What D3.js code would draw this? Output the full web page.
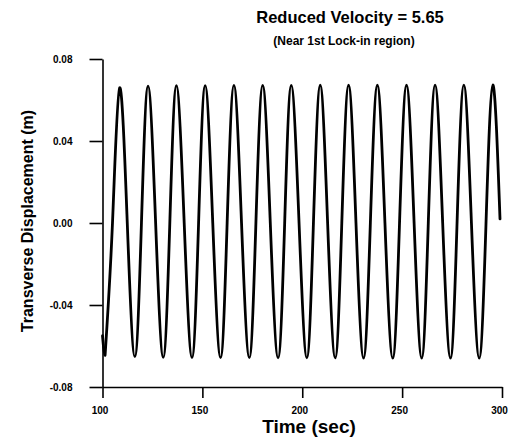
<!DOCTYPE html>
<html>
<head>
<meta charset="utf-8">
<script src="https://cdn.jsdelivr.net/npm/d3@7/dist/d3.min.js"></script>
<style>
  html, body { margin: 0; padding: 0; background: #fff; }
  svg { display: block; }
  text { font-family: "Liberation Sans", Arial, sans-serif; fill: #000; }
</style>
</head>
<body>
<svg id="chart" width="516" height="441"></svg>
<script>
// ---- data ----
const titleText = "Reduced Velocity = 5.65";
const subtitleText = "(Near 1st Lock-in region)";
const xLabel = "Time (sec)";
const yLabel = "Transverse Displacement (m)";

const xTicks = [100, 150, 200, 250, 300];
const xTickLabels = ["100", "150", "200", "250", "300"];
const yTicks = [-0.08, -0.04, 0.00, 0.04, 0.08];
const yTickLabels = ["-0.08", "-0.04", "0.00", "0.04", "0.08"];

// time (s) of the read points: start, troughs, crossings, peaks, end
const time = [
  100.0, 101.3, 105.0, 108.6, 112.4, 116.2, 119.5, 122.8, 126.6, 130.4,
  133.7, 137.0, 140.9, 144.8, 148.1, 151.4, 155.2, 159.1, 162.4, 165.8,
  169.6, 173.5, 176.8, 180.2, 184.0, 187.9, 191.2, 194.5, 198.4, 202.3,
  205.6, 209.0, 212.7, 216.5, 219.8, 223.2, 226.9, 230.7, 234.1, 237.6,
  241.4, 245.3, 248.7, 252.2, 256.0, 259.8, 263.1, 266.5, 270.3, 274.2,
  277.5, 280.9, 284.7, 288.6, 292.0, 295.4, 299.0
];
// transverse displacement (m) at those times
const disp = [
  -0.0550, -0.0645, 0, 0.0660, 0, -0.0652, 0, 0.0668, 0, -0.0655,
  0, 0.0670, 0, -0.0656, 0, 0.0670, 0, -0.0657, 0, 0.0671,
  0, -0.0657, 0, 0.0671, 0, -0.0658, 0, 0.0671, 0, -0.0658,
  0, 0.0672, 0, -0.0658, 0, 0.0672, 0, -0.0659, 0, 0.0672,
  0, -0.0659, 0, 0.0672, 0, -0.0659, 0, 0.0673, 0, -0.0659,
  0, 0.0673, 0, -0.0659, 0, 0.0673, 0.0020
];

// ---- drawing ----
const svg = d3.select("#chart");
const x = d3.scaleLinear().domain([100, 300]).range([102.5, 502]);
const y = d3.scaleLinear().domain([-0.08, 0.08]).range([387, 59]);

const pts = time.map((t, i) => [t, disp[i]]);

// clip for the lead-in segment (axis start up to the first trough)
svg.append("clipPath").attr("id", "leadClip")
  .append("rect")
  .attr("x", 0).attr("y", 0)
  .attr("width", x(time[1]) + 0.5).attr("height", 441);

// lead-in: axis to first trough (smooth trough, no overshoot)
const leadLine = d3.line().x(d => x(d[0])).y(d => y(d[1])).curve(d3.curveMonotoneX);
svg.append("path")
  .attr("d", leadLine(pts.slice(0, 3)))
  .attr("clip-path", "url(#leadClip)")
  .attr("fill", "none")
  .attr("stroke", "#000")
  .attr("stroke-width", 2.8)
  .attr("stroke-linecap", "round");

// main oscillation from the first trough on
const line = d3.line().x(d => x(d[0])).y(d => y(d[1])).curve(d3.curveNatural);
svg.append("path")
  .attr("d", line(pts.slice(1)))
  .attr("fill", "none")
  .attr("stroke", "#000")
  .attr("stroke-width", 2.8)
  .attr("stroke-linejoin", "round")
  .attr("stroke-linecap", "round");

// x axis (major + minor ticks)
const xMinor = d3.range(125, 300, 50);
const xAxis = svg.append("g").attr("transform", `translate(0,${y(-0.08)})`);
xAxis.call(d3.axisBottom(x).tickValues(xMinor).tickSize(6).tickFormat(""));
xAxis.call(d3.axisBottom(x).tickValues(xTicks).tickSize(11).tickSizeOuter(0)
  .tickFormat((d, i) => xTickLabels[i]));
xAxis.selectAll("path.domain").attr("stroke", "#000").attr("stroke-width", 1.6);
xAxis.selectAll("line").attr("stroke", "#000").attr("stroke-width", 1.6);
xAxis.selectAll("text")
  .attr("y", 20).attr("dy", "0.71em").attr("dx", -3)
  .style("font-size", "10px").style("font-weight", "bold")
  .style("font-family", "'Liberation Sans', Arial, sans-serif");

// y axis
const yMinor = [-0.06, -0.02, 0.02, 0.06];
const yAxis = svg.append("g").attr("transform", `translate(${x(100)},0)`);
yAxis.call(d3.axisLeft(y).tickValues(yMinor).tickSize(7).tickFormat(""));
yAxis.call(d3.axisLeft(y).tickValues(yTicks).tickSize(13).tickSizeOuter(0)
  .tickFormat((d, i) => yTickLabels[i]));
yAxis.selectAll("path.domain").attr("stroke", "#000").attr("stroke-width", 1.6);
yAxis.selectAll("line").attr("stroke", "#000").attr("stroke-width", 1.6);
yAxis.selectAll("text")
  .attr("x", -30)
  .style("font-size", "10px").style("font-weight", "bold")
  .style("font-family", "'Liberation Sans', Arial, sans-serif");

// titles
svg.append("text")
  .attr("x", 350).attr("y", 23)
  .attr("text-anchor", "middle")
  .style("font-size", "16.5px").style("font-weight", "bold")
  .text(titleText);
svg.append("text")
  .attr("x", 344).attr("y", 45)
  .attr("text-anchor", "middle")
  .style("font-size", "12px").style("font-weight", "bold")
  .text(subtitleText);

// axis labels
svg.append("text")
  .attr("x", 309).attr("y", 433)
  .attr("text-anchor", "middle")
  .style("font-size", "19px").style("font-weight", "bold")
  .text(xLabel);
svg.append("text")
  .attr("transform", `translate(33,221) rotate(-90)`)
  .attr("text-anchor", "middle")
  .style("font-size", "16px").style("font-weight", "bold")
  .text(yLabel);
</script>
</body>
</html>
